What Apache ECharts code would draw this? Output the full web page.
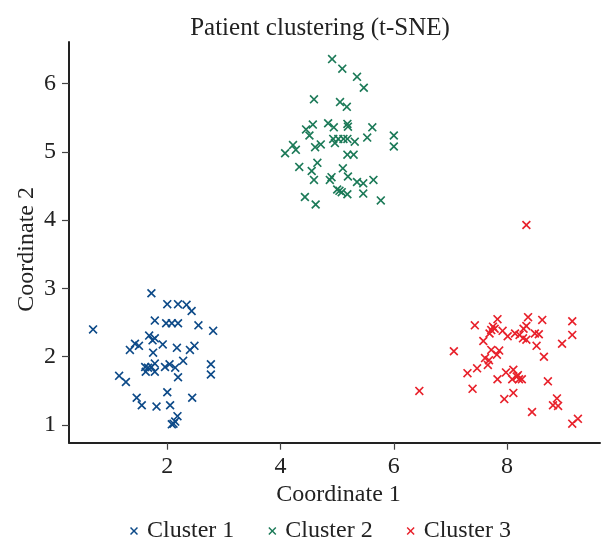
<!DOCTYPE html>
<html>
<head>
<meta charset="utf-8">
<script src="https://cdn.jsdelivr.net/npm/echarts@6/dist/echarts.min.js"></script>
<style>html,body{margin:0;padding:0;background:#fff}#c{width:604px;height:540px}</style>
</head>
<body>
<div id="c"></div>
<script>
const titleText = 'Patient clustering (t-SNE)';
const xName = 'Coordinate 1';
const yName = 'Coordinate 2';
const seriesNames = ['Cluster 1', 'Cluster 2', 'Cluster 3'];
const xTicks = [2, 4, 6, 8];
const yTicks = [1, 2, 3, 4, 5, 6];

const cluster1 = [
  [0.69,2.40],[1.72,2.93],[2.00,2.77],[2.19,2.77],[2.34,2.76],[2.43,2.67],
  [1.78,2.53],[1.98,2.49],[2.08,2.49],[2.19,2.49],[2.55,2.46],[2.81,2.38],
  [1.68,2.31],[1.78,2.27],[1.74,2.24],[1.43,2.19],[1.50,2.16],[1.34,2.10],
  [1.92,2.18],[2.17,2.13],[2.40,2.10],[2.48,2.16],[1.75,2.06],[2.28,1.94],
  [1.61,1.85],[1.66,1.84],[1.72,1.85],[1.62,1.78],[1.78,1.90],[1.78,1.78],
  [1.96,1.85],[2.04,1.89],[2.14,1.84],[2.19,1.70],[2.77,1.89],[2.77,1.74],
  [1.15,1.72],[1.27,1.63],[2.00,1.48],[1.46,1.40],[1.55,1.29],[1.81,1.27],
  [2.05,1.29],[2.44,1.40],[2.18,1.13],[2.14,1.05],[2.08,1.01],[2.11,1.02]
];
const cluster2 = [
  [4.91,6.36],[5.09,6.22],[5.35,6.10],[5.47,5.94],[4.59,5.77],[5.05,5.73],
  [5.17,5.66],[4.84,5.42],[4.94,5.36],[4.57,5.40],[4.45,5.33],[4.51,5.24],
  [5.18,5.41],[5.19,5.37],[5.62,5.36],[6.00,5.24],[6.00,5.08],[5.53,5.21],
  [4.93,5.19],[5.02,5.19],[5.11,5.19],[5.18,5.19],[4.96,5.13],[5.31,5.15],
  [4.71,5.11],[4.61,5.07],[4.22,5.10],[4.27,5.03],[4.08,4.98],[5.18,4.96],
  [5.29,4.96],[4.65,4.84],[4.33,4.78],[4.55,4.72],[4.59,4.59],[5.10,4.76],
  [5.19,4.64],[4.90,4.63],[4.87,4.59],[5.35,4.56],[5.46,4.54],[5.64,4.59],
  [5.04,4.43],[5.08,4.41],[5.18,4.38],[5.00,4.45],[5.46,4.39],[4.43,4.34],
  [4.62,4.23],[5.77,4.29]
];
const cluster3 = [
  [8.34,3.93],[7.83,2.55],[8.37,2.58],[8.62,2.54],[9.15,2.52],[7.43,2.46],
  [7.75,2.44],[7.78,2.41],[7.72,2.39],[7.92,2.38],[8.01,2.30],[8.14,2.34],
  [8.22,2.32],[8.29,2.41],[8.34,2.45],[8.28,2.27],[8.34,2.25],[8.49,2.34],
  [8.56,2.33],[9.15,2.32],[8.97,2.19],[8.52,2.16],[7.69,2.34],[7.58,2.23],
  [7.06,2.08],[7.72,2.10],[7.86,2.09],[7.82,2.03],[8.65,2.00],[7.61,1.98],
  [7.68,1.95],[7.66,1.88],[7.47,1.83],[7.30,1.76],[7.98,1.77],[8.11,1.81],
  [7.83,1.67],[8.09,1.67],[8.17,1.71],[8.21,1.67],[8.26,1.67],[8.19,1.73],
  [8.72,1.64],[7.39,1.53],[6.45,1.50],[8.11,1.47],[7.95,1.38],[8.88,1.39],
  [8.81,1.29],[8.90,1.28],[8.44,1.19],[9.15,1.02],[9.25,1.09]
];
const colors = ['#0d4a88', '#1c7a58', '#e8212b'];

const X_PATH = 'path://M1.3,0L5,3.7L8.7,0L10,1.3L6.3,5L10,8.7L8.7,10L5,6.3L1.3,10L0,8.7L3.7,5L0,1.3Z';
const FONT = '"Liberation Serif", "DejaVu Serif", serif';
const INK = '#222';

const chart = echarts.init(document.getElementById('c'), null, {renderer: 'canvas'});
const allData = [cluster1, cluster2, cluster3];

chart.setOption({
  animation: false,
  backgroundColor: '#fff',
  title: {
    text: titleText,
    left: 315, top: 11, textAlign: 'center',
    textStyle: {fontFamily: FONT, fontSize: 25, fontWeight: 'normal', color: INK}
  },
  legend: {
    data: seriesNames,
    left: 125, top: 514,
    itemWidth: 8, itemHeight: 8, itemGap: 34,
    icon: X_PATH,
    textStyle: {fontFamily: FONT, fontSize: 24, color: INK, padding: [0, 0, 0, 4]}
  },
  grid: {left: 69, right: 4, top: 42, bottom: 97.3, containLabel: false},
  xAxis: {
    type: 'value', min: 0.265, max: 9.64,
    name: xName, nameLocation: 'middle', nameGap: 40, nameMoveOverlap: false,
    nameTextStyle: {fontFamily: FONT, fontSize: 24, color: INK, padding: [0, 0, 0, 8]},
    axisLine: {show: true, onZero: false, lineStyle: {color: INK, width: 2}},
    axisTick: {show: true, length: 7, lineStyle: {color: '#444', width: 1.2}, customValues: xTicks},
    axisLabel: {fontFamily: FONT, fontSize: 24, color: INK, margin: 12, customValues: xTicks},
    splitLine: {show: false}
  },
  yAxis: {
    type: 'value', min: 0.741, max: 6.61,
    name: yName, nameLocation: 'middle', nameGap: 30, nameMoveOverlap: false,
    nameTextStyle: {fontFamily: FONT, fontSize: 24, color: INK, padding: [0, 14, 0, 0]},
    axisLine: {show: true, onZero: false, lineStyle: {color: INK, width: 2}},
    axisTick: {show: true, length: 7, lineStyle: {color: '#444', width: 1.2}, customValues: yTicks},
    axisLabel: {fontFamily: FONT, fontSize: 24, color: INK, margin: 13, customValues: yTicks},
    splitLine: {show: false}
  },
  series: seriesNames.map((n, i) => ({
    name: n, type: 'scatter', data: allData[i],
    symbol: X_PATH, symbolSize: 9,
    itemStyle: {color: colors[i], opacity: 1},
    emphasis: {disabled: true}
  }))
});
</script>
</body>
</html>
